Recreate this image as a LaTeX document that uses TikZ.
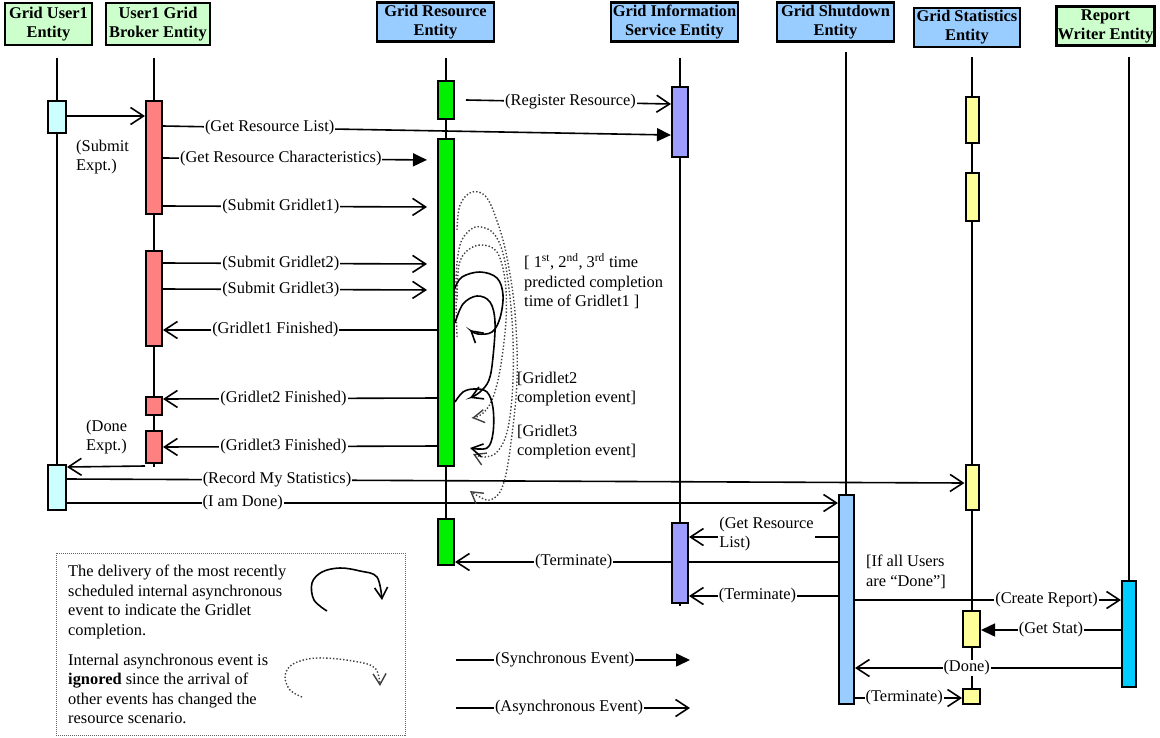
\documentclass[tikz,border=0pt]{standalone}
\usepackage{fontspec}
\setmainfont{Liberation Serif}
\usetikzlibrary{arrows.meta}

\definecolor{hdrgreen}{HTML}{CCFFCC}
\definecolor{hdrblue}{HTML}{99CCFF}
\definecolor{usercol}{HTML}{CCFFFF}
\definecolor{brokercol}{HTML}{FF8080}
\definecolor{rescol}{HTML}{00F000}
\definecolor{giscol}{HTML}{9D9DFF}
\definecolor{sdcol}{HTML}{99CCFF}
\definecolor{statcol}{HTML}{FFFF99}
\definecolor{rwcol}{HTML}{00CCFF}

\tikzstyle{entity}   = [rectangle, draw=black, line width=2.4pt, align=center, inner sep=1pt, font=\bfseries\fontsize{16.4}{19}\selectfont]
\tikzstyle{act}      = [rectangle, draw=black, line width=2pt, inner sep=0pt, minimum width=16pt]
\tikzstyle{life}     = [line width=1.6pt]
\tikzstyle{sync}     = [line width=1.6pt, -{Triangle[length=14pt,width=13pt]}]
\tikzstyle{async}    = [line width=1.6pt, -{Straight Barb[length=13pt,width=17pt]}]
\tikzstyle{msg}      = [fill=white, inner sep=1pt]
\tikzstyle{note}     = [align=left, inner sep=0pt, anchor=west]
\tikzstyle{loopline} = [line width=1.6pt, -{Straight Barb[length=11pt,width=13pt]}]
\tikzstyle{loopdot}  = [line width=1.4pt, dotted, black!75, -{Straight Barb[length=11pt,width=13pt]}]

\begin{document}
\begin{tikzpicture}[x=1pt, y=-1pt, every node/.style={font=\fontsize{16.4}{19.5}\selectfont}]

    \useasboundingbox (0,0) rectangle (1160,737);

    % entities
    \node (user)  [entity, fill=hdrgreen, minimum width=87pt,  minimum height=42pt] at (48.5,24)  {Grid User1\\Entity};
    \node (broker)[entity, fill=hdrgreen, minimum width=104pt, minimum height=42pt] at (158,24)   {User1 Grid\\Broker Entity};
    \node (res)   [entity, fill=hdrblue,  minimum width=117pt, minimum height=39pt] at (435.5,22) {Grid Resource\\Entity};
    \node (gis)   [entity, fill=hdrblue,  minimum width=127pt, minimum height=39pt] at (674.5,22) {Grid Information\\Service Entity};
    \node (shut)  [entity, fill=hdrblue,  minimum width=117pt, minimum height=39pt] at (835.5,22) {Grid Shutdown\\Entity};
    \node (stat)  [entity, fill=hdrblue,  minimum width=106pt, minimum height=39pt] at (967,27.5) {Grid Statistics\\Entity};
    \node (rw)    [entity, fill=hdrgreen, minimum width=94pt,  minimum height=39pt] at (1105.5,26){Report\\Writer Entity};

    % lifelines
    \draw [life] (57,58)   -- (57,465);
    \draw [life] (154,58)  -- (154,467);
    \draw [life] (446,58)  -- (446,542);
    \draw [life] (680,58)  -- (680,606);
    \draw [life] (846,52)  -- (846,600);
    \draw [life] (972,57)  -- (972,697);
    \draw [life] (1129,57) -- (1129,634);

    % activations
    \node (u1a) [act, fill=usercol, minimum width=18pt, minimum height=32pt]  at (57,117)    {};
    \node (u1b) [act, fill=usercol, minimum width=18pt, minimum height=45pt]  at (57,487.5)  {};
    \node (bka) [act, fill=brokercol, minimum height=113pt] at (154,157.5) {};
    \node (bkb) [act, fill=brokercol, minimum height=95pt]  at (154,298.5) {};
    \node (bkc) [act, fill=brokercol, minimum height=18pt]  at (154,406)   {};
    \node (bkd) [act, fill=brokercol, minimum height=32pt]  at (154,447)   {};
    \node (gra) [act, fill=rescol, minimum height=38pt]     at (446,100)   {};
    \node (grb) [act, fill=rescol, minimum height=327pt]    at (446,302.5) {};
    \node (grc) [act, fill=rescol, minimum height=46pt]     at (446,542)   {};
    \node (gisa)[act, fill=giscol, minimum height=70pt]     at (680,122)   {};
    \node (sda) [act, fill=sdcol, minimum width=15pt, minimum height=209pt] at (846.5,599.5) {};
    \node (sta) [act, fill=statcol, minimum width=13pt, minimum height=46pt] at (972,120)   {};
    \node (stb) [act, fill=statcol, minimum width=13pt, minimum height=48pt] at (972,197)   {};
    \node (stc) [act, fill=statcol, minimum width=13pt, minimum height=45pt] at (972,487.5) {};
    \node (std) [act, fill=statcol, minimum width=17pt, minimum height=36pt] at (971.5,629) {};
    \node (ste) [act, fill=statcol, minimum width=17pt, minimum height=15pt] at (971.5,696.5){};
    \node (rwa) [act, fill=rwcol, minimum width=14pt, minimum height=106pt]  at (1129,634)  {};

    % messages
    \draw [async] (u1a.east |- 0,116) -- (bka.west |- 0,116);
    \draw [async] ([xshift=11pt]gra.east) -- node [msg, pos=.51] {(Register Resource)} (gisa.west |- 0,104);
    \draw [sync] (bka.east |- 0,126) -- node [msg, pos=.21] {(Get Resource List)} (gisa.west |- 0,135);
    \draw [sync, shorten >=10pt] (bka.east |- 0,158) -- node [msg, pos=.43] {(Get Resource Characteristics)} (grb.west |- 0,160);
    \draw [async, shorten >=10pt] (bka.east |- 0,206) -- node [msg, pos=.43] {(Submit Gridlet1)} (grb.west |- 0,207);
    \draw [async, shorten >=10pt] (bkb.east |- 0,263) -- node [msg, pos=.43] {(Submit Gridlet2)} (grb.west |- 0,264);
    \draw [async, shorten >=10pt] (bkb.east |- 0,289) -- node [msg, pos=.43] {(Submit Gridlet3)} (grb.west |- 0,290);
    \draw [async] (grb.west |- 0,330) -- node [msg, pos=.59] {(Gridlet1 Finished)} (bkb.east |- 0,330);
    \draw [async] (grb.west |- 0,398) -- node [msg, pos=.56] {(Gridlet2 Finished)} (bkc.east |- 0,399);
    \draw [async] (grb.west |- 0,446) -- node [msg, pos=.56] {(Gridlet3 Finished)} (bkd.east |- 0,447);
    \draw [async] (bkd.west |- 0,466) -- (u1b.east |- 0,467);
    \draw [async] (u1b.east |- 0,479) -- node [msg, pos=.234] {(Record My Statistics)} (stc.west |- 0,483);
    \draw [async] (u1b.east |- 0,503) -- node [msg, pos=.228] {(I am Done)} (sda.west |- 0,503);
    \draw [async] (sda.west |- 0,562) -- node [msg, pos=.69] {(Terminate)} (grc.east |- 0,562);
    \node (gisb)[act, fill=giscol, minimum height=80pt] at (680,563) {};
    \draw [async] (sda.west |- 0,537) -- node [msg, pos=.48, yshift=3pt, align=left] {(Get Resource\\List)} (gisb.east |- 0,537);
    \draw [async] (sda.west |- 0,596) -- node [msg, pos=.54] {(Terminate)} (gisb.east |- 0,596);
    \draw [async] (sda.east |- 0,600) -- node [msg, pos=.72] {(Create Report)} (rwa.west |- 0,600);
    \draw [sync] (rwa.west |- 0,630) -- node [msg, pos=.5] {(Get Stat)} (std.east |- 0,630);
    \draw [async] (rwa.west |- 0,668) -- node [msg, pos=.58] {(Done)} (sda.east |- 0,668);
    \draw [async] (sda.east |- 0,698) -- node [msg, pos=.46] {(Terminate)} (ste.west |- 0,698);

    % notes
    \node (submitexpt) [note] at (76,157) {(Submit\\Expt.)};
    \node (doneexpt)   [note] at (86,437) {(Done\\Expt.)};
    \node (predicted)  [note] at (524,281) {[ 1\textsuperscript{st}, 2\textsuperscript{nd}, 3\textsuperscript{rd} time\\predicted completion\\time of Gridlet1 ]};
    \node (g2event)    [note] at (517,389) {[Gridlet2\\completion event]};
    \node (g3event)    [note] at (517,442) {[Gridlet3\\completion event]};
    \node (allusers)   [note] at (866,572) {[If all Users\\are “Done”]};

    % internal events of the resource
    \draw [loopdot] plot [smooth, tension=.6] coordinates {(457,230) (460,205) (472,192) (487,198) (500,230) (508,263) (515,313) (517,380) (510,450) (502,488) (490,500) (478,496) (470,491)};
    \draw [loopdot] plot [smooth, tension=.6] coordinates {(457,337) (456,280) (460,245) (470,230) (481,227) (495,235) (505,262) (512,320) (513,380) (508,428) (498,451) (485,457) (473,454)};
    \draw [loopdot] plot [smooth, tension=.6] coordinates {(457,300) (459,265) (468,250) (482,245) (497,252) (505,280) (506,320) (500,370) (492,400) (482,414) (472,418)};
    \draw [loopline] plot [smooth, tension=.6] coordinates {(455,288) (462,277) (480,272) (497,278) (503,295) (500,318) (492,332) (478,334) (470,330)};
    \draw [loopline] plot [smooth, tension=.6] coordinates {(455,323) (463,304) (477,296) (490,302) (495,322) (493,357) (489,380) (480,392) (470,398)};
    \draw [loopline] plot [smooth, tension=.6] coordinates {(455,402) (463,392) (474,389) (487,392) (493,408) (493,433) (487,448) (470,448)};

    % legend
    \draw [densely dotted, line width=1pt, black!60] (56,553) rectangle (405,735);
    \node (legsolid) [note] at (68,602) {The delivery of the most recently\\scheduled internal asynchronous\\event to indicate the Gridlet\\completion.};
    \node (legdot)   [note] at (68,689) {Internal asynchronous event is\\\textbf{ignored} since the arrival of\\other events has changed the\\resource scenario.};
    \draw [loopline] plot [smooth, tension=.6] coordinates {(327,611) (314,600) (312,583) (322,572) (340,568) (360,571) (377,577) (382,600)};
    \draw [loopdot] plot [smooth, tension=.6] coordinates {(302,697) (290,690) (285,676) (293,664) (317,658) (353,661) (375,668) (380,686)};

    \coordinate (synA) at (456,660);
    \coordinate (synB) at (690,660);
    \coordinate (asyA) at (456,708);
    \coordinate (asyB) at (690,708);
    \draw [sync]  (synA) -- node [msg, pos=.465] {(Synchronous Event)} (synB);
    \draw [async] (asyA) -- node [msg, pos=.483] {(Asynchronous Event)} (asyB);

\end{tikzpicture}
\end{document}
